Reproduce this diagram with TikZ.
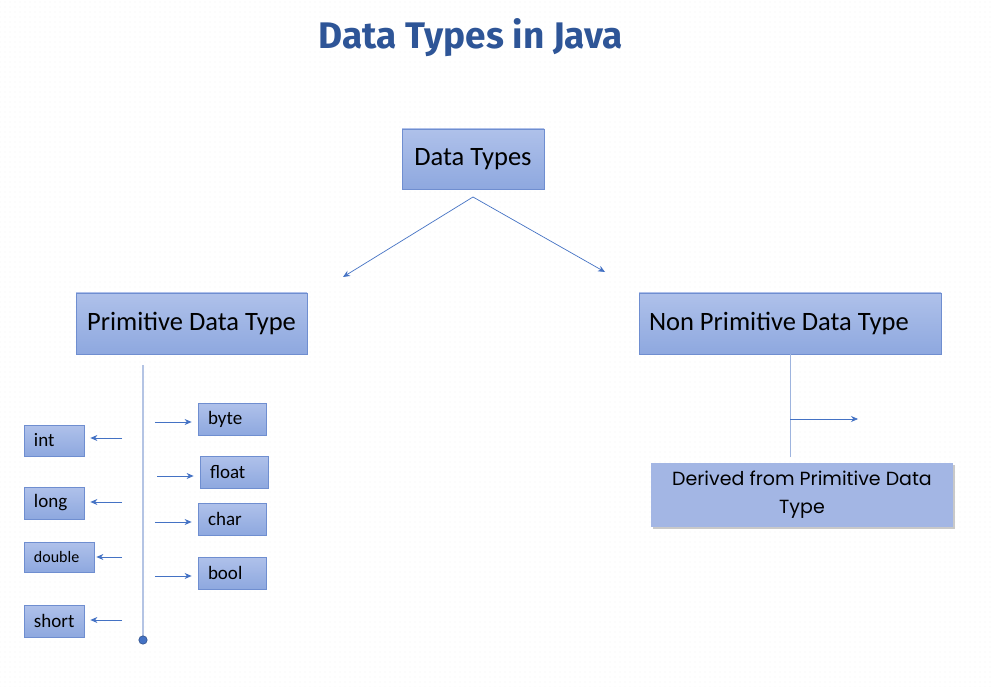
\documentclass[tikz,border=0pt]{standalone}
\usepackage{fontspec}
\setmainfont{Carlito}
\newfontfamily\titlefont{Fira Sans}
\newfontfamily\popfont{Poppins}
\usetikzlibrary{arrows.meta,shadows,patterns.meta}
\definecolor{boxtop}{HTML}{AFC1EA}
\definecolor{boxbot}{HTML}{8EA8DF}
\definecolor{boxline}{HTML}{6F8ED0}
\definecolor{arrowc}{HTML}{4472C4}
\definecolor{titlec}{HTML}{2E5597}
\definecolor{vline}{HTML}{B4C4E4}
\definecolor{derivfill}{HTML}{A3B6E4}
\tikzset{
  box/.style={draw=boxline, line width=0.8pt, top color=boxtop, bottom color=boxbot, inner ysep=0pt, text=black},
  bigbox/.style={box, font=\fontsize{26.5}{30}\selectfont, inner xsep=0pt},
  smallbox/.style={box, font=\fontsize{19}{22}\selectfont, inner xsep=10pt, align=flush left},
  arr/.style={draw=arrowc, line width=0.7pt, -{Stealth[length=7pt,width=6pt]}},
}
\begin{document}
\begin{tikzpicture}[x=1pt,y=-1pt]
\fill[white] (0,0) rectangle (994,687);
\fill[pattern={Dots[distance=5pt,radius=0.45pt]}, pattern color=black!14] (0,0) rectangle (994,687);
\useasboundingbox (0,0) rectangle (994,687);

\node[font=\titlefont\bfseries\fontsize{37}{42}\selectfont, text=titlec] (title) at (471,38) {Data Types in Java};

\node[bigbox, minimum width=142pt, minimum height=60pt] (dt) at (473,159) {Data Types};
\node[bigbox, minimum width=231pt, minimum height=61pt] (prim) at (191.5,323.5) {Primitive Data Type};
\node[bigbox, minimum height=61pt, text width=282pt, inner xsep=10pt, align=flush left] (nonprim) at (790,323.5) {Non Primitive Data Type};

\node[draw=none, fill=derivfill, drop shadow={shadow xshift=2pt, shadow yshift=-2pt, fill=black!35, opacity=0.6},
      minimum width=302pt, minimum height=64pt, align=center, inner sep=0pt,
      font=\popfont\fontsize{19}{28}\selectfont] (der) at (802,495) {Derived from Primitive Data\\Type};

% small boxes left
\node[smallbox, text width=40pt, minimum height=31pt] (int) at (54,440.5) {int};
\node[smallbox, text width=40pt, minimum height=32pt] (long) at (54,503) {long};
\node[smallbox, font=\fontsize{16}{18}\selectfont, text width=50pt, minimum height=30pt] (double) at (59,557) {double};
\node[smallbox, text width=40pt, minimum height=32pt] (short) at (54,621) {short};

% small boxes right
\node[smallbox, text width=48pt, minimum height=32pt] (byte) at (232,419) {byte};
\node[smallbox, text width=48pt, minimum height=32pt] (float) at (234,472) {float};
\node[smallbox, text width=48pt, minimum height=32pt] (char) at (232,519) {char};
\node[smallbox, text width=48pt, minimum height=32pt] (bool) at (232,573) {bool};

% arrows from Data Types
\coordinate (split) at (473,197);
\coordinate (lend) at (343,277);
\coordinate (rend) at (605,272);
\draw[arr] (split) -- (lend);
\draw[arr] (split) -- (rend);

% primitive spine
\coordinate (spinetop) at (143,365);
\coordinate (spinebot) at (143,640);
\draw[vline, line width=2pt] (spinetop) -- (spinebot);
\fill[arrowc] (spinebot) circle (4.2pt);
\draw[arrowc!70!black, line width=0.6pt] (spinebot) circle (4.2pt);

% left arrows
\coordinate (a1) at (122,438);
\coordinate (a2) at (122,502);
\coordinate (a3) at (122,557);
\coordinate (a4) at (122,620);
\draw[arr] (a1) -- ([xshift=6pt]int.east |- a1);
\draw[arr] (a2) -- ([xshift=6pt]long.east |- a2);
\draw[arr] (a3) -- ([xshift=2pt]double.east |- a3);
\draw[arr] (a4) -- ([xshift=6pt]short.east |- a4);

% right arrows
\coordinate (b1) at (155,422);
\coordinate (b2) at (157,476);
\coordinate (b3) at (155,522);
\coordinate (b4) at (155,576);
\draw[arr] (b1) -- ([xshift=-6pt]byte.west |- b1);
\draw[arr] (b2) -- ([xshift=-6pt]float.west |- b2);
\draw[arr] (b3) -- ([xshift=-6pt]char.west |- b3);
\draw[arr] (b4) -- ([xshift=-6pt]bool.west |- b4);

% non primitive
\coordinate (nptop) at (790,354);
\coordinate (npbot) at (790,457);
\coordinate (npmid) at (790,419);
\coordinate (npend) at (858,419);
\draw[vline!80!arrowc, line width=0.8pt] (nptop) -- (npbot);
\draw[arr] (npmid) -- (npend);
\end{tikzpicture}
\end{document}
